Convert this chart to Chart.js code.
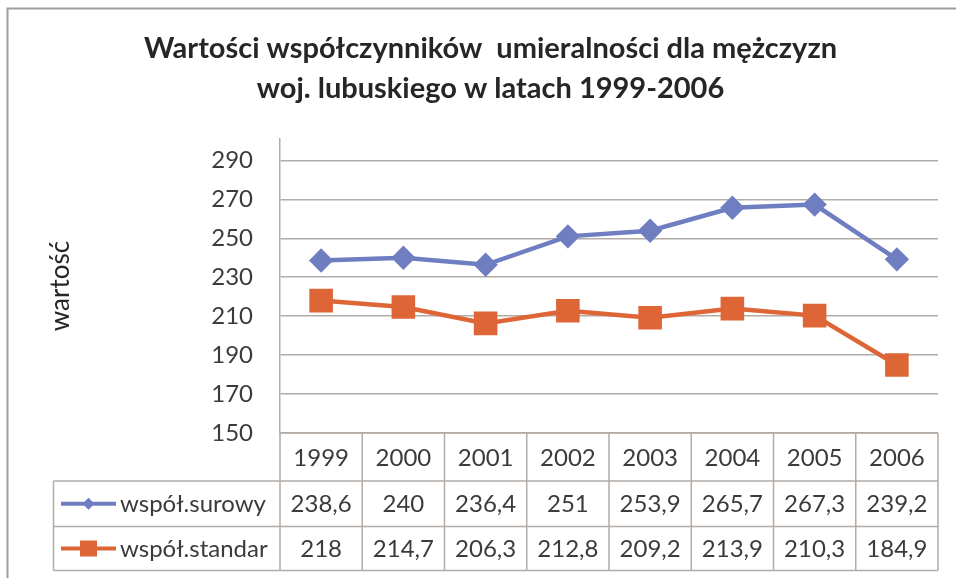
<!DOCTYPE html>
<html>
<head>
<meta charset="utf-8">
<script src="https://cdn.jsdelivr.net/npm/chart.js@4/dist/chart.umd.min.js"></script>
<style>
html,body{margin:0;padding:0;background:#fff;}
#wrap{width:956px;height:578px;position:relative;}
</style>
</head>
<body>
<div id="wrap"><canvas id="c" width="956" height="578"></canvas></div>
<script>
const years = ['1999','2000','2001','2002','2003','2004','2005','2006'];
const surowy = [238.6, 240, 236.4, 251, 253.9, 265.7, 267.3, 239.2];
const standar = [218, 214.7, 206.3, 212.8, 209.2, 213.9, 210.3, 184.9];
const yTicks = [150, 170, 190, 210, 230, 250, 270, 290];
const seriesNames = ['współ.surowy', 'współ.standar'];
const titleLines = ['Wartości współczynników  umieralności dla mężczyzn', 'woj. lubuskiego w latach 1999-2006'];
const yTitle = 'wartość';

const BLUE = '#6f7ec0';
const ORANGE = '#de6636';
const GRID = '#b3aba5';
const TEXT = '#3b3b3b';
const FONT = 'Lato';

function fmt(v){ return String(v).replace('.', ','); }

const tablePlugin = {
  id: 'dataTable',
  beforeDraw(chart){
    const ctx = chart.ctx;
    ctx.save();
    ctx.fillStyle = '#fff';
    ctx.fillRect(0,0,chart.width,chart.height);
    ctx.strokeStyle = '#a39c99';
    ctx.lineWidth = 2;
    ctx.beginPath();
    ctx.moveTo(7.5, chart.height); ctx.lineTo(7.5, 8.5); ctx.lineTo(chart.width, 8.5);
    ctx.stroke();
    ctx.restore();
  },
  afterDraw(chart){
    const ctx = chart.ctx;
    const xs = chart.scales.x;
    const ca = chart.chartArea;
    const n = years.length;
    const colW = (ca.right - ca.left) / n;
    const rowTop = ca.bottom;
    const r1 = ca.bottom + 48;
    const r2 = r1 + 45.5;
    const r3 = r2 + 44;
    const legLeft = 53.5;
    ctx.save();
    ctx.strokeStyle = GRID;
    ctx.lineWidth = 1.5;
    ctx.beginPath();
    ctx.moveTo(ca.left, rowTop); ctx.lineTo(ca.right, rowTop);
    [r1, r2, r3].forEach(y => { ctx.moveTo(legLeft, y); ctx.lineTo(ca.right, y); });
    ctx.moveTo(legLeft, r1); ctx.lineTo(legLeft, r3);
    ctx.moveTo(ca.left, rowTop); ctx.lineTo(ca.left, r3);
    for (let i = 1; i <= n; i++) {
      const x = ca.left + colW * i;
      ctx.moveTo(x, rowTop); ctx.lineTo(x, r3);
    }
    ctx.stroke();

    ctx.fillStyle = TEXT;
    ctx.font = '24px ' + FONT;
    ctx.textAlign = 'center';
    ctx.textBaseline = 'middle';
    const rows = [surowy, standar];
    for (let i = 0; i < n; i++) {
      const cx = xs.getPixelForValue(i);
      ctx.fillText(years[i], cx, (rowTop + r1) / 2 + 1);
      ctx.fillText(fmt(rows[0][i]), cx, (r1 + r2) / 2 + 1);
      ctx.fillText(fmt(rows[1][i]), cx, (r2 + r3) / 2 + 1);
    }
    const ys = [(r1 + r2) / 2, (r2 + r3) / 2];
    const cols = [BLUE, ORANGE];
    ys.forEach((y, k) => {
      ctx.strokeStyle = cols[k];
      ctx.lineWidth = 4;
      ctx.beginPath(); ctx.moveTo(61, y); ctx.lineTo(116, y); ctx.stroke();
      ctx.fillStyle = cols[k];
      if (k === 0) {
        ctx.beginPath();
        ctx.moveTo(88.5, y - 6); ctx.lineTo(94.5, y); ctx.lineTo(88.5, y + 6); ctx.lineTo(82.5, y);
        ctx.closePath(); ctx.fill();
      } else {
        ctx.fillRect(80, y - 8, 17, 16);
      }
      ctx.fillStyle = TEXT;
      ctx.textAlign = 'left';
      ctx.fillText(seriesNames[k], 120, y + 1);
    });
    ctx.restore();
  }
};

new Chart(document.getElementById('c'), {
  type: 'line',
  data: {
    labels: years,
    datasets: [
      { label: seriesNames[0], data: surowy, borderColor: BLUE, backgroundColor: BLUE,
        borderWidth: 4.5, pointStyle: 'rectRot', pointRadius: 9, pointHoverRadius: 9, tension: 0 },
      { label: seriesNames[1], data: standar, borderColor: ORANGE, backgroundColor: ORANGE,
        borderWidth: 4.5, pointStyle: 'rect', pointRadius: 13.5, pointHoverRadius: 13.5, tension: 0 }
    ]
  },
  options: {
    responsive: false,
    animation: false,
    devicePixelRatio: 1,
    layout: { padding: { left: 40, top: 0, right: 15, bottom: 145 } },
    plugins: {
      legend: { display: false },
      tooltip: { enabled: false },
      title: {
        display: true,
        text: titleLines,
        color: '#262626',
        font: { family: FONT, size: 29, weight: 'bold', lineHeight: 1.4 },
        padding: { top: 28, bottom: 29.8 }
      }
    },
    scales: {
      x: { type: 'category', display: false, offset: true },
      y: {
        min: 150, max: 301,
        afterFit(scale){ scale.width = 240; },
        afterBuildTicks(scale){ scale.ticks = yTicks.map(v => ({ value: v })); },
        ticks: { padding: 27, color: TEXT, font: { family: FONT, size: 24 } },
        grid: { color: GRID, lineWidth: 1.5, drawTicks: false },
        border: { display: true, color: GRID, width: 1.5 },
        title: { display: true, text: yTitle, color: '#262626',
                 font: { family: FONT, size: 26 }, padding: { top: 5, bottom: 0 } }
      }
    }
  },
  plugins: [tablePlugin]
});
</script>
</body>
</html>
